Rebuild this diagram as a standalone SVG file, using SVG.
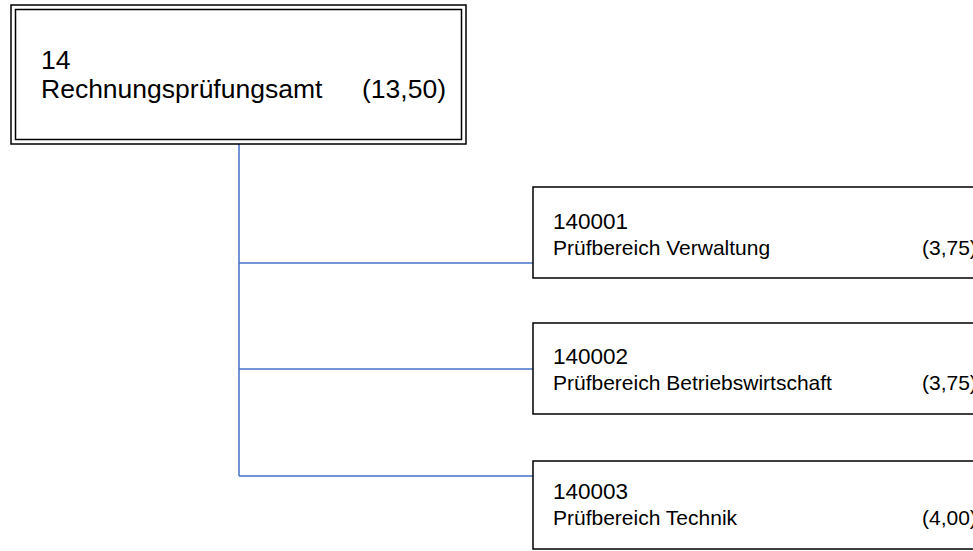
<svg xmlns="http://www.w3.org/2000/svg" width="973" height="551" viewBox="0 0 973 551">
<style>
.box{fill:#fff;stroke:#000;stroke-width:1.5}
.conn{fill:none;stroke:#4472c4;stroke-width:1.5}
.t{font-family:"Liberation Sans",Arial,sans-serif;fill:#000}
.big{font-size:26.5px}
.num{font-size:22.5px}
.sub{font-size:21px}
</style>
<rect width="973" height="551" fill="#fff"/>
<g id="connectors">
<path class="conn" d="M239,144 V476 M239,263 H533 M239,369 H533 M239,476 H533"/>
</g>
<g id="n14">
<rect class="box" x="11" y="5" width="455" height="139"/>
<rect class="box" x="15.5" y="9.5" width="446" height="130"/>
<text class="t big" x="41" y="69">14</text>
<text class="t big" x="41" y="98">Rechnungsprüfungsamt</text>
<text class="t big" x="362" y="98">(13,50)</text>
</g>
<g id="n140001">
<rect class="box" x="533" y="187" width="460" height="91"/>
<text class="t num" x="553" y="229">140001</text>
<text class="t sub" x="553" y="255">Prüfbereich Verwaltung</text>
<text class="t sub" x="922" y="255">(3,75)</text>
</g>
<g id="n140002">
<rect class="box" x="533" y="323" width="460" height="91"/>
<text class="t num" x="553" y="364">140002</text>
<text class="t sub" x="553" y="390">Prüfbereich Betriebswirtschaft</text>
<text class="t sub" x="922" y="390">(3,75)</text>
</g>
<g id="n140003">
<rect class="box" x="533" y="461" width="460" height="88"/>
<text class="t num" x="553" y="499">140003</text>
<text class="t sub" x="553" y="525">Prüfbereich Technik</text>
<text class="t sub" x="922" y="525">(4,00)</text>
</g>
</svg>
